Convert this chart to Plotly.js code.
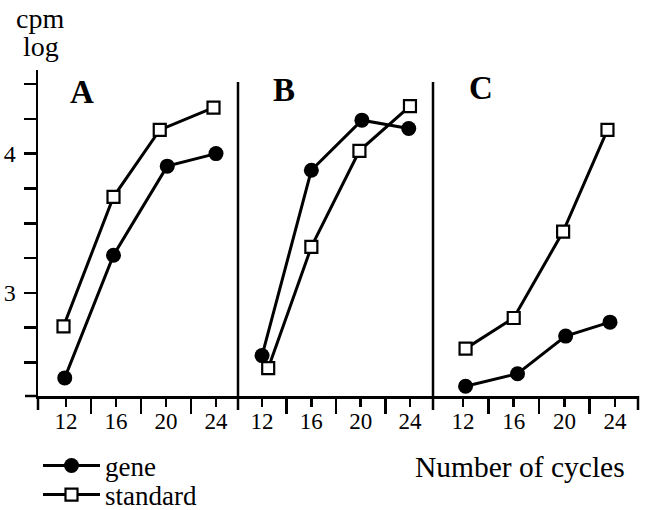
<!DOCTYPE html>
<html><head><meta charset="utf-8">
<script src="https://cdn.plot.ly/plotly-3.0.1.min.js"></script>
<style>html,body{margin:0;padding:0;background:#fff}#chart{width:646px;height:510px}</style>
</head><body><div id="chart"></div><script>
// x positions (number of cycles)
const xAGene = [11.9, 15.8, 20.1, 24.0];
const xAStd  = [11.8, 15.8, 19.5, 23.8];
const xBGene = [12.0, 16.0, 20.1, 23.9];
const xBStd  = [12.5, 16.0, 19.9, 24.0];
const xCGene = [12.2, 16.3, 20.1, 23.6];
const xCStd  = [12.2, 16.0, 19.9, 23.4];
// log cpm values
const yAGene = [2.39, 3.27, 3.91, 4.00];
const yAStd  = [2.76, 3.69, 4.17, 4.33];
const yBGene = [2.55, 3.88, 4.24, 4.18];
const yBStd  = [2.46, 3.33, 4.02, 4.34];
const yCGene = [2.33, 2.42, 2.69, 2.79];
const yCStd  = [2.60, 2.82, 3.44, 4.17];
const xTickVals = [12, 16, 20, 24];
const xTickText = ['12', '16', '20', '24'];
const xMinorVals = [14, 18, 22];
const yTickVals = [3, 4];
const yTickText = ['3', '4'];
const yMinorVals = [2.5, 2.75, 3.25, 3.5, 3.75, 4.25, 4.5];
const panelLabels = ['A', 'B', 'C'];
const seriesNames = ['gene', 'standard'];

const SERIF = 'Liberation Serif, Times New Roman, serif';
const geneStyle = {mode:'lines+markers', line:{color:'#000', width:3},
  marker:{symbol:'circle', size:15, color:'#000'}, cliponaxis:false};
const stdStyle = {mode:'lines+markers', line:{color:'#000', width:3},
  marker:{symbol:'square', size:12, color:'#fff', line:{color:'#000', width:2.2}}, cliponaxis:false};

function tr(x, y, style, xa, name, show, leg){
  return Object.assign({x:x, y:y, xaxis:xa, yaxis:'y', name:name, showlegend:show, legend:leg}, style);
}
const data = [
  tr(xAStd, yAStd, stdStyle, 'x', seriesNames[1], true, 'legend2'),
  tr(xAGene, yAGene, geneStyle, 'x', seriesNames[0], true, 'legend'),
  tr(xBStd, yBStd, stdStyle, 'x2', seriesNames[1], false, 'legend2'),
  tr(xBGene, yBGene, geneStyle, 'x2', seriesNames[0], false, 'legend'),
  tr(xCStd, yCStd, stdStyle, 'x3', seriesNames[1], false, 'legend2'),
  tr(xCGene, yCGene, geneStyle, 'x3', seriesNames[0], false, 'legend')
];

function xa(domain, range){
  return {domain:domain, range:range, anchor:'y', showline:true, linecolor:'#000', linewidth:2.5,
    showgrid:false, zeroline:false, ticks:'outside', ticklen:8, tickwidth:2.5, tickcolor:'#000',
    tickmode:'array', tickvals:xTickVals, ticktext:xTickText,
    tickfont:{family:SERIF, size:23, color:'#000'}, ticklabelstandoff:-5,
    minor:{tickmode:'array', tickvals:xMinorVals, ticks:'outside', ticklen:15, tickwidth:2.5, tickcolor:'#000', showgrid:false},
    fixedrange:true};
}
const H = 326, W = 600;
function vline(px, top, bot){
  return {type:'line', xref:'paper', yref:'paper', x0:(px-38)/W, x1:(px-38)/W,
    y0:(396-bot)/H, y1:(396-top)/H, line:{color:'#000', width:2.5}};
}
function note(txt, px, py, size){
  return {text:txt, xref:'paper', yref:'paper', x:(px-38)/W, y:(396-py)/H, showarrow:false,
    xanchor:'center', yanchor:'middle', font:{family:SERIF, size:size, color:'#000'}};
}
const layout = {
  width:646, height:510, margin:{l:38, r:8, t:70, b:114, autoexpand:false},
  paper_bgcolor:'#fff', plot_bgcolor:'#fff',
  font:{family:SERIF, color:'#000'},
  xaxis: xa([0, 200/W], [9.76, 25.76]),
  xaxis2: xa([200/W, 396/W], [10.05, 25.95]),
  xaxis3: xa([395/W, 1], [9.63, 25.81]),
  yaxis: {domain:[0,1], range:[2.26, 4.60], anchor:'x', showline:true, linecolor:'#000', linewidth:2.5,
    showgrid:false, zeroline:false, ticks:'outside', ticklen:12, tickwidth:2.5, tickcolor:'#000',
    tickmode:'array', tickvals:yTickVals, ticktext:yTickText, ticklabelstandoff:3,
    tickfont:{family:SERIF, size:24, color:'#000'},
    minor:{tickmode:'array', tickvals:yMinorVals, ticks:'outside', ticklen:12, tickwidth:2.5, tickcolor:'#000', showgrid:false},
    fixedrange:true},
  shapes: [
    vline(238, 82, 410), vline(433, 82, 410), vline(38, 396, 410), vline(638, 396, 410),
    {type:'line', xref:'paper', yref:'paper', x0:-13/W, x1:0, y0:0, y1:0, line:{color:'#000', width:2.5}}
  ],
  annotations: [
    note('cpm', 40, 18, 28),
    note('log', 41, 47, 28),
    note('<b>'+panelLabels[0]+'</b>', 82, 92, 33),
    note('<b>'+panelLabels[1]+'</b>', 284, 90, 33),
    note('<b>'+panelLabels[2]+'</b>', 481, 88, 33),
    note('Number of cycles', 520, 467, 29.5)
  ],
  legend: {x:0, y:(396-466)/H, xanchor:'left', yanchor:'middle', bgcolor:'rgba(0,0,0,0)', borderwidth:0,
    font:{family:SERIF, size:27, color:'#000'}, itemwidth:57},
  legend2: {x:0, y:(396-495)/H, xanchor:'left', yanchor:'middle', bgcolor:'rgba(0,0,0,0)', borderwidth:0,
    font:{family:SERIF, size:27, color:'#000'}, itemwidth:57},
  showlegend:true
};
Plotly.newPlot('chart', data, layout, {displayModeBar:false, staticPlot:true});
</script></body></html>
